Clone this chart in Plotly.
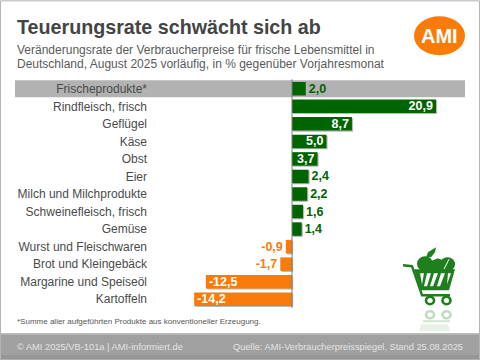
import plotly.graph_objects as go

categories = ["Frischeprodukte*", "Rindfleisch, frisch", "Geflügel", "Käse", "Obst", "Eier",
              "Milch und Milchprodukte", "Schweinefleisch, frisch", "Gemüse",
              "Wurst und Fleischwaren", "Brot und Kleingebäck", "Margarine und Speiseöl", "Kartoffeln"]
values = [2.0, 20.9, 8.7, 5.0, 3.7, 2.4, 2.2, 1.6, 1.4, -0.9, -1.7, -12.5, -14.2]
title = "Teuerungsrate schwächt sich ab"
subtitle_1 = "Veränderungsrate der Verbraucherpreise für frische Lebensmittel in"
subtitle_2 = "Deutschland, August 2025 vorläufig, in % gegenüber Vorjahresmonat"
footnote = "*Summe aller aufgeführten Produkte aus konventioneller Erzeugung."
footer_left = "© AMI 2025/VB-101a | AMI-informiert.de"
footer_right = "Quelle: AMI-Verbraucherpreisspiegel, Stand 25.08.2025"

GREEN, ORANGE = "#006400", "#f97c0a"
CART = "#1f7f1f"
W, H = 480, 360
L, R, T, B = 148, 465, 79.7, 307.8
ZERO, PPU = 292, 6.89


def px(x):
    return (x - L) / (R - L)


def py(y):
    return (B - y) / (B - T)


def path(points, fill=None, stroke=None, width=0, opacity=1.0, closed=True):
    d = "M " + " L ".join(f"{px(x):.5f},{py(y):.5f}" for x, y in points) + (" Z" if closed else "")
    return dict(type="path", xref="paper", yref="paper", path=d, fillcolor=fill or "rgba(0,0,0,0)",
                line=dict(color=stroke or "rgba(0,0,0,0)", width=width), opacity=opacity)


def ell(x0, y0, x1, y1, fill=None, stroke=None, width=0, opacity=1.0):
    return dict(type="circle", xref="paper", yref="paper", x0=px(x0), x1=px(x1), y0=py(y0), y1=py(y1),
                fillcolor=fill or "rgba(0,0,0,0)", line=dict(color=stroke or "rgba(0,0,0,0)", width=width),
                opacity=opacity)


def rect(x0, y0, x1, y1, fill, layer="below"):
    return dict(type="rect", xref="paper", yref="paper", x0=px(x0), x1=px(x1), y0=py(y0), y1=py(y1),
                fillcolor=fill, line_width=0, layer=layer)


labels = [f"{v:.1f}".replace(".", ",") for v in values]
inside = [abs(v) >= 3 for v in values]
text_pos = ["inside" if i else "outside" for i in inside]
text_col = ["white" if i else (GREEN if v > 0 else ORANGE) for i, v in zip(inside, values)]
colors = [GREEN if v > 0 else ORANGE for v in values]

fig = go.Figure()
fig.add_trace(go.Bar(
    y=categories, x=values, base=0.17, orientation="h", width=0.77, offset=-0.385 + 0.06,
    marker=dict(color="#b8b8b8", line_width=0), hoverinfo="skip",
))
fig.add_trace(go.Bar(
    y=categories, x=values, orientation="h", width=0.77, offset=-0.385,
    marker=dict(color=colors, line_width=0),
    text=labels, textposition=text_pos, insidetextanchor="end", cliponaxis=False,
    textangle=0, constraintext="none",
    textfont=dict(family="Liberation Sans", size=12.5, color=text_col, weight="bold"),
))

shapes = [
    rect(15, 80, 465, 97, "#b2b2b2"),
    rect(0, 333, 480, 360, "#a0a0a0"),
    rect(0, 333, 480, 334.5, "#bdbdbd"),
    rect(0, 355, 480, 360, "#969696"),
    dict(type="rect", xref="paper", yref="paper", x0=px(0.5), x1=px(479.5), y0=py(0.5), y1=py(359.5),
         line=dict(color="#b4b4b4", width=1), layer="below"),
    dict(type="line", xref="paper", yref="paper", x0=px(ZERO), x1=px(ZERO), y0=py(79), y1=py(307.5),
         line=dict(color="#7a7a7a", width=1), layer="above"),
    ell(414, 16, 465, 55, ORANGE),
    # shopping cart
    ell(417, 256, 433, 271, CART),
    path([(426, 257), (428, 252), (436, 247), (435, 252), (431, 257)], fill=CART),
    path([(428, 262), (438, 258), (447, 262), (447, 270), (428, 270)], fill=CART),
    ell(440, 257, 455, 271, CART),
    path([(444, 269), (449, 259)], stroke="white", width=1, closed=False),
    path([(403, 265), (412, 266), (422, 295), (450, 295)], stroke=CART, width=2.4, closed=False),
    path([(414, 269), (455, 269), (449, 290), (421, 290)], fill=CART),
    path([(420, 273), (424, 273), (422, 284)], fill="white"),
    path([(427, 273), (431, 273), (427, 286), (424, 286)], fill="white"),
    path([(434, 273), (438, 273), (433, 286), (430, 286)], fill="white"),
    path([(441, 273), (445, 273), (440, 286), (437, 286)], fill="white"),
    path([(448, 273), (451, 273), (447, 284)], fill="white"),
    ell(426, 296.5, 434, 304, stroke=CART, width=2.6),
    ell(442.5, 296.5, 450.5, 304, stroke=CART, width=2.6),
    # faded reflection
    ell(426, 311, 434, 318, stroke=CART, width=2.6, opacity=0.28),
    ell(442.5, 311, 450.5, 318, stroke=CART, width=2.6, opacity=0.28),
    path([(423, 321), (450, 321)], stroke=CART, width=2, opacity=0.2, closed=False),
    path([(421, 324), (448, 324), (450, 331), (419, 331)], fill=CART, opacity=0.1),
]


def ann(x, y, text, size, color, anchor="left", bold=False):
    return dict(xref="paper", yref="paper", x=px(x), y=py(y), text=text, showarrow=False,
                xanchor=anchor, yanchor="middle", align=anchor,
                font=dict(family="Liberation Sans", size=size, color=color,
                          weight="bold" if bold else "normal"))


annotations = [
    ann(15, 27, title, 19.7, "#444444", bold=True),
    ann(15, 49.5, subtitle_1, 12, "#5a5a5a"),
    ann(15, 64, subtitle_2, 12, "#5a5a5a"),
    ann(15, 321.5, footnote, 8, "#555555"),
    ann(15, 347, footer_left, 9.3, "#e4e4e4"),
    ann(465, 347, footer_right, 9.3, "#e4e4e4", "right"),
    ann(439.5, 35.5, "AMI", 20, "white", "center", True),
]

fig.update_layout(
    width=W, height=H, autosize=False, showlegend=False, paper_bgcolor="white", plot_bgcolor="rgba(0,0,0,0)",
    margin=dict(l=L, r=W - R, t=T, b=H - B, pad=0),
    shapes=shapes, annotations=annotations, barmode="overlay",
    xaxis=dict(range=[(L - ZERO) / PPU, (R - ZERO) / PPU], visible=False, fixedrange=True),
    yaxis=dict(autorange="reversed", ticks="", showline=False, showgrid=False, automargin=False, fixedrange=True,
               tickfont=dict(family="Liberation Sans", size=12, color="#4a4a4a")),
)
fig.write_html("out.html", config=dict(displayModeBar=False),
               post_script="document.body.style.margin='0';document.body.style.overflow='hidden';")
